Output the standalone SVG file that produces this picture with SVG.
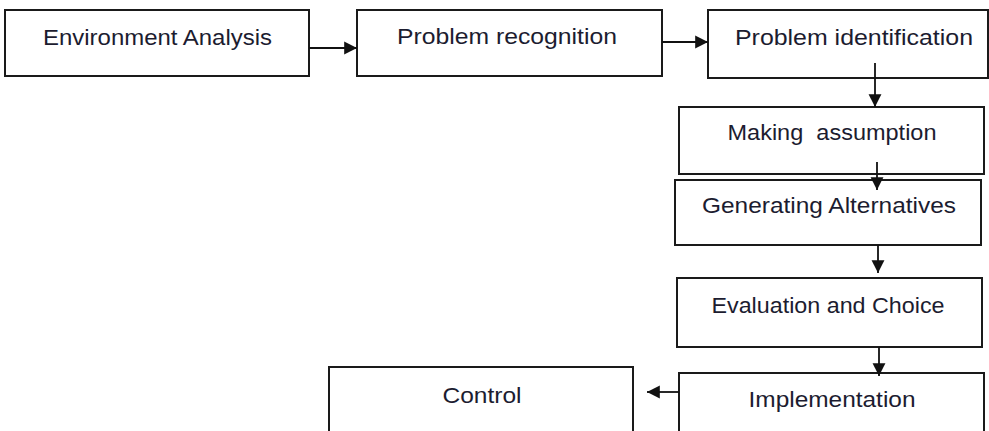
<svg xmlns="http://www.w3.org/2000/svg" width="989" height="431" viewBox="0 0 989 431">
<defs>
<style>
.box{fill:#fff;stroke:#1a1a1a;stroke-width:2}
.lbl{font-family:"Liberation Sans",Arial,sans-serif;font-size:22px;fill:#1c1c30;text-anchor:middle}
.con{stroke:#111;stroke-width:1.8;fill:none}
</style>
<marker id="ah" markerUnits="userSpaceOnUse" markerWidth="14" markerHeight="14" viewBox="0 0 12 12" refX="11" refY="6" orient="auto">
<path d="M0,0.5 L11,6 L0,11.5 Z" fill="#111"/>
</marker>
</defs>
<rect width="989" height="431" fill="#fff"/>
<g id="n1"><rect class="box" x="5" y="10" width="304" height="66"/><text class="lbl" x="157.5" y="45" textLength="229" lengthAdjust="spacingAndGlyphs">Environment Analysis</text></g>
<g id="n2"><rect class="box" x="357" y="10" width="305" height="66"/><text class="lbl" x="507" y="44" textLength="220" lengthAdjust="spacingAndGlyphs">Problem recognition</text></g>
<g id="n3"><rect class="box" x="708" y="10" width="280" height="68"/><text class="lbl" x="854" y="45" textLength="238" lengthAdjust="spacingAndGlyphs">Problem identification</text></g>
<g id="n4"><rect class="box" x="679" y="107" width="305" height="67"/><text class="lbl" x="832" y="140" textLength="209" lengthAdjust="spacingAndGlyphs" xml:space="preserve">Making  assumption</text></g>
<g id="n5"><rect class="box" x="675" y="180" width="306" height="65"/><text class="lbl" x="829" y="213" textLength="254" lengthAdjust="spacingAndGlyphs">Generating Alternatives</text></g>
<g id="n6"><rect class="box" x="677" y="278" width="305" height="69"/><text class="lbl" x="828" y="313" textLength="233" lengthAdjust="spacingAndGlyphs">Evaluation and Choice</text></g>
<g id="n7"><rect class="box" x="679" y="373" width="305" height="70"/><text class="lbl" x="832" y="407" textLength="167" lengthAdjust="spacingAndGlyphs">Implementation</text></g>
<g id="n8"><rect class="box" x="329" y="367" width="304" height="76"/><text class="lbl" x="482" y="403" textLength="79" lengthAdjust="spacingAndGlyphs">Control</text></g>
<g id="connectors">
<line class="con" x1="309" y1="48" x2="357" y2="48" marker-end="url(#ah)"/>
<line class="con" x1="662" y1="42" x2="708" y2="42" marker-end="url(#ah)"/>
<line class="con" x1="875" y1="63" x2="875" y2="107" marker-end="url(#ah)"/>
<line class="con" x1="877" y1="162" x2="877" y2="190" marker-end="url(#ah)"/>
<line class="con" x1="878" y1="245" x2="878" y2="273" marker-end="url(#ah)"/>
<line class="con" x1="879" y1="347" x2="879" y2="376" marker-end="url(#ah)"/>
<line class="con" x1="679" y1="392" x2="647" y2="392" marker-end="url(#ah)"/>
</g>
</svg>
